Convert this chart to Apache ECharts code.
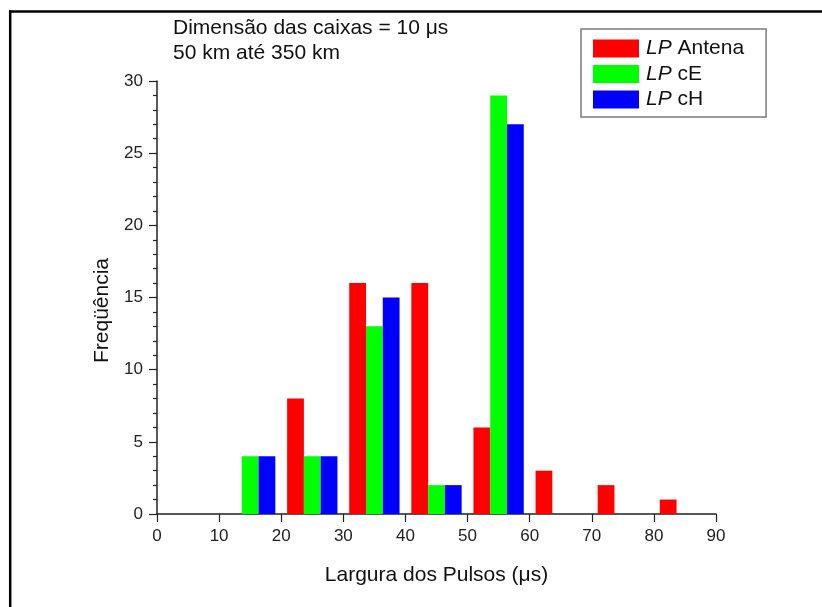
<!DOCTYPE html>
<html>
<head>
<meta charset="utf-8">
<script src="https://cdn.jsdelivr.net/npm/echarts@6/dist/echarts.min.js"></script>
<style>html,body{margin:0;padding:0;background:#fff;}#c{width:822px;height:607px;}</style>
</head>
<body>
<div id="c"></div>
<script>
// Bins of 10 µs (0-10 ... 80-90)
const bins = ['0-10','10-20','20-30','30-40','40-50','50-60','60-70','70-80','80-90'];
const lpAntena = [0, 0, 8, 16, 16, 6, 3, 2, 1];
const lpCE     = [0, 4, 4, 13, 2, 29, 0, 0, 0];
const lpCH     = [0, 4, 4, 15, 2, 27, 0, 0, 0];
const seriesNames = ['LP Antena', 'LP cE', 'LP cH'];
const xTitle = 'Largura dos Pulsos (\u03bcs)';
const yTitle = 'Freq\u00fc\u00eancia';
const titleLines = ['Dimens\u00e3o das caixas = 10 \u03bcs', '50 km at\u00e9 350 km'];

const font = 'Liberation Sans, Arial, sans-serif';
const chart = echarts.init(document.getElementById('c'));
chart.setOption({
  animation: false,
  backgroundColor: '#fff',
  title: {
    text: titleLines.join('\n'),
    left: 173, top: 16, padding: 0,
    textStyle: { fontFamily: font, fontSize: 21, fontWeight: 'normal', color: '#111', lineHeight: 25 }
  },
  legend: {
    orient: 'vertical',
    left: 581, top: 29,
    padding: [9, 22, 7, 12],
    borderColor: '#7a7a7a', borderWidth: 1.5,
    itemWidth: 46, itemHeight: 18, itemGap: 4.5,
    icon: 'rect',
    data: seriesNames,
    formatter: function (n) { return '{i|LP}' + n.slice(2); },
    textStyle: {
      fontFamily: font, fontSize: 21, color: '#111', padding: [0, 0, 0, 2],
      rich: { i: { fontFamily: font, fontSize: 21, fontStyle: 'italic', color: '#111' } }
    }
  },
  grid: { left: 157, right: 106, top: 81, bottom: 93 },
  xAxis: [
    { type: 'category', data: bins, show: false, boundaryGap: true },
    {
      type: 'value', min: 0, max: 90, interval: 10, position: 'bottom',
      name: xTitle, nameLocation: 'middle', nameGap: 51,
      nameTextStyle: { fontFamily: font, fontSize: 21, color: '#111' },
      axisLine: { onZero: false, lineStyle: { color: '#222', width: 1.5 } },
      axisTick: { show: true, length: 8, lineStyle: { color: '#222', width: 1.2 } },
      axisLabel: { margin: 14, fontFamily: font, fontSize: 17, color: '#222' },
      splitLine: { show: false }
    }
  ],
  yAxis: {
    type: 'value', min: 0, max: 30, interval: 5,
    name: yTitle, nameLocation: 'middle', nameGap: 43,
    nameTextStyle: { fontFamily: font, fontSize: 21, color: '#111', padding: [0, 26, 0, 0] },
    axisLine: { show: true, onZero: false, lineStyle: { color: '#222', width: 1.5 } },
    axisTick: { show: true, length: 8, lineStyle: { color: '#222', width: 1.2 } },
    minorTick: { show: true, splitNumber: 5, length: 4, lineStyle: { color: '#222', width: 1.2 } },
    axisLabel: { margin: 14, fontFamily: font, fontSize: 17, color: '#222' },
    splitLine: { show: false }
  },
  series: [
    { name: seriesNames[0], type: 'bar', xAxisIndex: 0, data: lpAntena, itemStyle: { color: '#ff0000' }, barGap: 0, barCategoryGap: '19%' },
    { name: seriesNames[1], type: 'bar', xAxisIndex: 0, data: lpCE, itemStyle: { color: '#00ff00' }, barGap: 0, barCategoryGap: '19%' },
    { name: seriesNames[2], type: 'bar', xAxisIndex: 0, data: lpCH, itemStyle: { color: '#0000ff' }, barGap: 0, barCategoryGap: '19%' }
  ],
  graphic: [
    { type: 'line', shape: { x1: 9, y1: 11.5, x2: 822, y2: 11.5 }, style: { stroke: '#000', lineWidth: 2.5 } },
    { type: 'line', shape: { x1: 10.2, y1: 10.5, x2: 10.2, y2: 607 }, style: { stroke: '#000', lineWidth: 2.5 } }
  ]
});
</script>
</body>
</html>
